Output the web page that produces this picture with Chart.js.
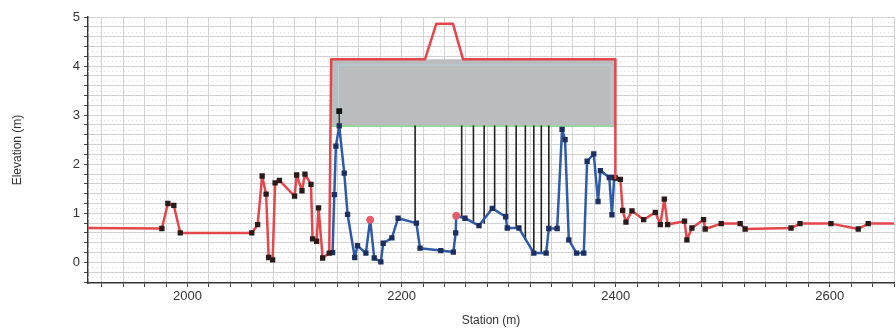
<!DOCTYPE html>
<html>
<head>
    <title>Bridge Cross Section</title>
    <script src="https://cdn.jsdelivr.net/npm/chart.js@4.4.1/dist/chart.umd.min.js"></script>
    <style>
        body { margin: 0; background: #fff; }
    </style>
</head>
<body>

<div>
    <canvas id="sectionChart" width="896" height="329"></canvas>
</div>

<script>
    // ground profile left of the bridge (station m, elevation m)
    var groundLeftX = [1900, 1976.0, 1981.6, 1987.2, 1993.2, 2060.0, 2065.5, 2069.7, 2073.4, 2075.8, 2079.5, 2081.8, 2085.8, 2100.0, 2101.9, 2106.9, 2109.7, 2115.3, 2116.8, 2120.6, 2122.4, 2126.2, 2132.4];
    var groundLeftY = [0.70, 0.69, 1.20, 1.16, 0.60, 0.60, 0.77, 1.76, 1.39, 0.10, 0.05, 1.62, 1.67, 1.35, 1.78, 1.46, 1.80, 1.59, 0.48, 0.43, 1.11, 0.09, 0.19];

    // bridge deck outline (high chord)
    var deckX = [2132.4, 2134.2, 2221.9, 2232.4, 2248.0, 2257.3, 2399.7, 2399.7];
    var deckY = [0.19, 4.14, 4.14, 4.86, 4.86, 4.14, 4.14, 1.72];

    // ground profile right of the bridge
    var groundRightX = [2399.7, 2404.4, 2406.5, 2409.6, 2415.2, 2426.1, 2437.0, 2441.7, 2445.4, 2448.5, 2464.3, 2466.5, 2471.2, 2482.1, 2483.6, 2498.6, 2516.3, 2520.9, 2563.8, 2572.2, 2601.1, 2626.6, 2635.9, 2670];
    var groundRightY = [1.72, 1.69, 1.06, 0.82, 1.05, 0.87, 1.02, 0.77, 1.29, 0.77, 0.84, 0.46, 0.70, 0.87, 0.68, 0.79, 0.79, 0.68, 0.70, 0.79, 0.79, 0.68, 0.79, 0.79];

    // channel bed under the bridge
    var channelX = [2135.5, 2137.1, 2138.6, 2141.7, 2146.4, 2149.5, 2156.2, 2158.8, 2166.6, 2170.6, 2174.4, 2180.6, 2182.8, 2190.9, 2196.7, 2213.8, 2217.2, 2236.6, 2248.3, 2250.5, 2251.0, 2259.2, 2272.3, 2284.7, 2297.2, 2298.7, 2309.6, 2323.5, 2335.0, 2337.5, 2345.3, 2349.9, 2352.7, 2356.2, 2363.4, 2370.2, 2373.3, 2379.5, 2383.5, 2385.7, 2394.0, 2396.5, 2398.6];
    var channelY = [0.20, 1.38, 2.37, 2.78, 1.82, 0.98, 0.10, 0.34, 0.19, 0.87, 0.09, 0.01, 0.39, 0.50, 0.90, 0.80, 0.29, 0.24, 0.21, 0.60, 0.95, 0.90, 0.75, 1.10, 0.93, 0.70, 0.70, 0.19, 0.19, 0.69, 0.69, 2.71, 2.50, 0.46, 0.19, 0.19, 2.06, 2.21, 1.24, 1.87, 1.73, 0.97, 1.73];

    // flagged bed points
    var flagX = [2170.6, 2251.0];
    var flagY = [0.87, 0.95];

    // deck body (filled down to the low chord)
    var deckFillX = [2134.2, 2399.7];
    var deckFillY = [4.14, 4.14];
    var lowChord = 2.78;
    var lowChordX = [2134.2, 2399.7];

    var innerX = [2141, 2141, 2396, 2396];
    var innerY = [2.78, 4.02, 4.02, 2.78];

    // piers: station and bottom elevation
    var pierX = [2212.6, 2256.1, 2267.1, 2277.1, 2286.9, 2297.9, 2307.0, 2315.6, 2323.5, 2330.5, 2337.5];
    var pierBottom = [0.80, 0.92, 0.84, 0.80, 1.10, 0.92, 0.70, 0.46, 0.19, 0.19, 0.69];

    var postX = 2141.7;
    var postTop = 3.08;

    var xTicks = [];
    for (var v = 1920; v <= 2660; v += 20) xTicks.push(v);
    var yTicks = [];
    for (var k = -2; k <= 25; k++) yTicks.push(Math.round(k * 20) / 100);

    function pts(xs, ys) {
        return xs.map(function (x, i) { return { x: x, y: ys[i] }; });
    }

    var pierPts = [];
    pierX.forEach(function (x, i) {
        pierPts.push({ x: x, y: lowChord }, { x: x, y: pierBottom[i] }, { x: x, y: null });
    });

    // dotted horizontal lines between the solid grid lines
    var minorGrid = {
        id: 'minorGrid',
        beforeDatasetsDraw: function (chart) {
            var ctx = chart.ctx, a = chart.chartArea, ys = chart.scales.y;
            ctx.save();
            ctx.beginPath();
            ctx.rect(a.left, a.top, a.right - a.left, a.bottom - a.top);
            ctx.clip();
            ctx.strokeStyle = '#dcdcdc';
            ctx.lineWidth = 1;
            ctx.setLineDash([1, 3]);
            for (var k = -3; k < 50; k += 2) {
                var py = Math.round(ys.getPixelForValue(k / 10)) + 0.5;
                ctx.beginPath(); ctx.moveTo(a.left, py); ctx.lineTo(a.right, py); ctx.stroke();
            }
            ctx.restore();
        }
    };

    var red = '#e4464c';
    var blue = '#2e5aa8';

    var ctx = document.getElementById('sectionChart').getContext('2d');
    var chart = new Chart(ctx, {
        type: 'line',
        data: {
            datasets: [{
                data: pts(deckFillX, deckFillY),
                borderWidth: 0,
                pointRadius: 0,
                backgroundColor: '#babcbe',
                fill: { value: lowChord },
                order: 9
            }, {
                data: pts(innerX, innerY),
                borderColor: '#b4d4da',
                borderWidth: 1,
                pointRadius: 0,
                order: 8
            }, {
                data: pts(lowChordX, [lowChord, lowChord]),
                borderColor: '#96d4a0',
                borderWidth: 2,
                pointRadius: 0,
                order: 7
            }, {
                data: pierPts,
                borderColor: '#222',
                borderWidth: 1.6,
                pointRadius: 0,
                spanGaps: false,
                order: 6
            }, {
                data: [{ x: postX, y: lowChord }, { x: postX, y: postTop }],
                borderColor: '#333',
                borderWidth: 1.5,
                pointStyle: 'rect',
                pointRadius: [0, 3],
                pointBackgroundColor: '#111',
                pointBorderColor: '#111',
                order: 5
            }, {
                data: pts(channelX, channelY),
                borderColor: blue,
                borderWidth: 2.5,
                pointStyle: 'rect',
                pointRadius: 2,
                pointBackgroundColor: '#1c2f60',
                pointBorderColor: '#1c2f60',
                order: 4
            }, {
                data: pts(flagX, flagY),
                showLine: false,
                pointRadius: 3.5,
                pointBackgroundColor: '#ea5a66',
                pointBorderColor: '#ea5a66',
                order: 3
            }, {
                data: pts(groundLeftX, groundLeftY),
                borderColor: red,
                borderWidth: 2.5,
                pointStyle: 'rect',
                pointRadius: 2,
                pointBackgroundColor: '#2a1a1a',
                pointBorderColor: '#2a1a1a',
                order: 2
            }, {
                data: pts(deckX, deckY),
                borderColor: red,
                borderWidth: 2.5,
                pointRadius: 0,
                order: 2
            }, {
                data: pts(groundRightX, groundRightY),
                borderColor: red,
                borderWidth: 2.5,
                pointStyle: 'rect',
                pointRadius: 2,
                pointBackgroundColor: '#2a1a1a',
                pointBorderColor: '#2a1a1a',
                order: 2
            }]
        },
        options: {
            responsive: false,
            animation: false,
            events: [],
            layout: { autoPadding: false, padding: { left: 8, top: 17, right: 0, bottom: 1 } },
            plugins: { legend: { display: false }, tooltip: { enabled: false } },
            elements: { line: { tension: 0, borderJoinStyle: 'round' } },
            scales: {
                x: {
                    type: 'linear',
                    min: 1907,
                    max: 2660,
                    afterBuildTicks: function (s) { s.ticks = xTicks.map(function (v) { return { value: v }; }); },
                    ticks: {
                        autoSkip: false,
                        maxRotation: 0,
                        padding: 2,
                        color: '#333',
                        font: { family: 'Liberation Sans', size: 13 },
                        callback: function (v) { return v % 200 === 0 ? String(v) : ''; }
                    },
                    grid: { color: '#d2d2d2', tickLength: 4, tickColor: '#444' },
                    border: { color: '#333', width: 1.5 },
                    title: {
                        display: true,
                        text: 'Station (m)',
                        color: '#333',
                        font: { family: 'Liberation Sans', size: 12 },
                        padding: { top: 7, bottom: 0 }
                    }
                },
                y: {
                    min: -0.42,
                    max: 5,
                    afterBuildTicks: function (s) { s.ticks = yTicks.map(function (v) { return { value: v }; }); },
                    afterFit: function (s) { s.width = 80; },
                    ticks: {
                        autoSkip: false,
                        padding: 4,
                        color: '#333',
                        font: { family: 'Liberation Sans', size: 13 },
                        callback: function (v) { return Math.abs(v - Math.round(v)) < 1e-6 ? String(Math.round(v)) : ''; }
                    },
                    grid: { color: '#d2d2d2', tickLength: 4, tickColor: '#444' },
                    border: { color: '#333', width: 1.5 },
                    title: {
                        display: true,
                        text: 'Elevation (m)',
                        color: '#333',
                        font: { family: 'Liberation Sans', size: 12 },
                        padding: { top: 2, bottom: 0 }
                    }
                }
            }
        },
        plugins: [minorGrid]
    });
</script>
</body>
</html>
